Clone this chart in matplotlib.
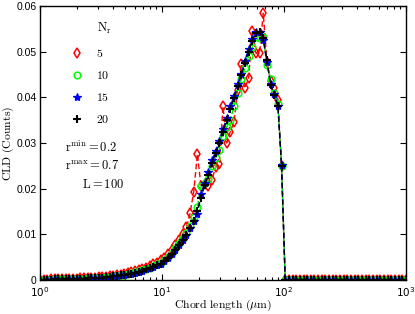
import math
import matplotlib
matplotlib.use("Agg")
import matplotlib.pyplot as plt
from matplotlib.ticker import FixedLocator, FuncFormatter, LogLocator, NullFormatter

plt.rcParams['font.family'] = ['Liberation Sans Narrow', 'Liberation Sans', 'DejaVu Sans']
plt.rcParams['mathtext.fontset'] = 'custom'
plt.rcParams['mathtext.rm'] = 'Liberation Sans Narrow'
plt.rcParams['mathtext.it'] = 'Liberation Sans Narrow:italic'
plt.rcParams['mathtext.bf'] = 'Liberation Sans Narrow:bold'

# chord length grid (um)
chord = [1.000, 1.072, 1.148, 1.230, 1.318, 1.413, 1.514, 1.622, 1.738, 1.862,
         1.995, 2.138, 2.291, 2.455, 2.630, 2.818, 3.020, 3.236, 3.467, 3.715,
         3.981, 4.266, 4.571, 4.898, 5.248, 5.623, 6.026, 6.457, 6.918, 7.413,
         7.943, 8.511, 9.120, 9.772, 10.47, 11.22, 12.02, 12.88, 13.80, 14.79,
         15.85, 16.98, 18.20, 19.50, 20.89, 22.39, 23.99, 25.70, 27.54, 29.51,
         31.62, 33.88, 36.31, 38.90, 41.69, 44.67, 47.86, 51.29, 54.95, 58.88,
         63.10, 67.61, 72.44, 77.62, 83.18, 89.13, 95.50, 102.3, 109.6, 117.5,
         125.9, 134.9, 144.5, 154.9, 166.0, 177.8, 190.5, 204.2, 218.8, 234.4,
         251.2, 269.2, 288.4, 309.0, 331.1, 354.8, 380.2, 407.4, 436.5, 467.7,
         501.2, 537.0, 575.4, 616.6, 660.7, 707.9, 758.6, 812.8, 871.0, 933.3,
         1000.0]

tail_zero = [0.0, 0.0, 0.0, 0.0, 0.0, 0.0, 0.0, 0.0, 0.0, 0.0,
             0.0, 0.0, 0.0, 0.0, 0.0, 0.0, 0.0, 0.0, 0.0, 0.0,
             0.0, 0.0, 0.0, 0.0, 0.0, 0.0, 0.0, 0.0, 0.0, 0.0,
             0.0, 0.0, 0.0, 0.0]

cld_n5 = [0.0001, 0.0001, 0.0001, 0.0002, 0.0002, 0.0002, 0.0002, 0.0003, 0.0003, 0.0003,
          0.0003, 0.0004, 0.0004, 0.0004, 0.0005, 0.0005, 0.0006, 0.0006, 0.0007, 0.0008,
          0.0009, 0.0010, 0.0012, 0.0013, 0.0015, 0.0017, 0.0019, 0.0021, 0.0024, 0.0027,
          0.0031, 0.0034, 0.0038, 0.0043, 0.0049, 0.0057, 0.0066, 0.0077, 0.0088, 0.0100,
          0.0115, 0.0146, 0.0193, 0.0276, 0.0205, 0.0210, 0.0205, 0.0220, 0.0247, 0.0255,
          0.0380, 0.0300, 0.0325, 0.0346, 0.0416, 0.0473, 0.0420, 0.0442, 0.0545, 0.0497,
          0.0497, 0.0584, 0.0477, 0.0435, 0.0420, 0.0395, 0.0250] + tail_zero

cld_n10 = [0.0001, 0.0001, 0.0001, 0.0001, 0.0002, 0.0002, 0.0002, 0.0002, 0.0002, 0.0003,
           0.0003, 0.0003, 0.0003, 0.0004, 0.0004, 0.0004, 0.0005, 0.0005, 0.0006, 0.0007,
           0.0008, 0.0009, 0.0010, 0.0012, 0.0013, 0.0015, 0.0017, 0.0019, 0.0021, 0.0024,
           0.0027, 0.0030, 0.0034, 0.0038, 0.0043, 0.0050, 0.0059, 0.0069, 0.0080, 0.0091,
           0.0102, 0.0118, 0.0137, 0.0160, 0.0205, 0.0212, 0.0222, 0.0250, 0.0268, 0.0285,
           0.0315, 0.0335, 0.0350, 0.0380, 0.0410, 0.0440, 0.0465, 0.0490, 0.0510, 0.0532,
           0.0530, 0.0532, 0.0470, 0.0440, 0.0410, 0.0385, 0.0250] + tail_zero

cld_n15 = [0.0001, 0.0001, 0.0001, 0.0001, 0.0002, 0.0002, 0.0002, 0.0002, 0.0002, 0.0003,
           0.0003, 0.0003, 0.0003, 0.0004, 0.0004, 0.0004, 0.0005, 0.0005, 0.0006, 0.0007,
           0.0008, 0.0009, 0.0010, 0.0011, 0.0013, 0.0014, 0.0016, 0.0018, 0.0020, 0.0023,
           0.0026, 0.0029, 0.0032, 0.0036, 0.0041, 0.0048, 0.0057, 0.0066, 0.0077, 0.0088,
           0.0099, 0.0113, 0.0130, 0.0145, 0.0188, 0.0212, 0.0236, 0.0262, 0.0282, 0.0305,
           0.0330, 0.0355, 0.0380, 0.0403, 0.0430, 0.0452, 0.0480, 0.0505, 0.0528, 0.0543,
           0.0542, 0.0525, 0.0478, 0.0430, 0.0408, 0.0382, 0.0252] + tail_zero

cld_n20 = [0.0001, 0.0001, 0.0001, 0.0001, 0.0002, 0.0002, 0.0002, 0.0002, 0.0002, 0.0003,
           0.0003, 0.0003, 0.0003, 0.0004, 0.0004, 0.0004, 0.0005, 0.0005, 0.0006, 0.0007,
           0.0008, 0.0009, 0.0010, 0.0011, 0.0013, 0.0014, 0.0016, 0.0018, 0.0020, 0.0023,
           0.0026, 0.0029, 0.0032, 0.0036, 0.0041, 0.0048, 0.0057, 0.0066, 0.0077, 0.0088,
           0.0099, 0.0113, 0.0130, 0.0152, 0.0180, 0.0208, 0.0230, 0.0256, 0.0278, 0.0300,
           0.0325, 0.0350, 0.0375, 0.0398, 0.0424, 0.0448, 0.0475, 0.0500, 0.0524, 0.0541,
           0.0543, 0.0530, 0.0482, 0.0428, 0.0405, 0.0380, 0.0250] + tail_zero

series_labels = ['5', '10', '15', '20']
yticks = [0, 0.01, 0.02, 0.03, 0.04, 0.05, 0.06]

fig = plt.figure(figsize=(4.15, 3.14), dpi=100)
ax = fig.add_axes([40/415, 1-280/314, 366/415, 274/314])

styles = [
    dict(color=(1, 0, 0), marker='d', mfc='none', mec=(1, 0, 0), ms=5.5, mew=1.1),
    dict(color=(0, 0.9, 0), marker='o', mfc='none', mec=(0, 1, 0), ms=4.8, mew=1.1),
    dict(color=(0, 0, 1), marker='*', mfc=(0, 0, 1), mec=(0, 0, 1), ms=6.0, mew=0.9),
    dict(color='black', marker='+', mfc='black', mec='black', ms=6.0, mew=1.5),
]
data = [cld_n5, cld_n10, cld_n15, cld_n20]
handles = []
for ys, st, lab in zip(data, styles, series_labels):
    ax.plot(chord, ys, ls='--', lw=1.0, dashes=(4, 2), **st)
    h, = ax.plot([], [], ls='none', marker=st['marker'], mfc=st['mfc'],
                 mec=st['mec'], ms=st['ms'], mew=st['mew'], label=lab)
    handles.append(h)

ax.set_xscale('log')
ax.set_xlim(1, 1000)
ax.set_ylim(0, 0.06)
ax.xaxis.set_major_locator(FixedLocator([1, 10, 100, 1000]))
ax.xaxis.set_major_formatter(FuncFormatter(lambda v, p: r'$10^{%d}$' % round(math.log10(v))))
ax.xaxis.set_minor_locator(LogLocator(base=10, subs=[2, 3, 4, 5, 6, 7, 8, 9]))
ax.xaxis.set_minor_formatter(NullFormatter())
ax.yaxis.set_major_locator(FixedLocator(yticks))
ax.yaxis.set_major_formatter(FuncFormatter(lambda v, p: '0' if v == 0 else '%.2f' % v))
ax.tick_params(which='both', direction='in', top=True, right=True, labelsize=7.5, width=0.8)
ax.tick_params(which='major', length=4, pad=2.5)
ax.tick_params(axis='x', which='major', pad=3.5)
ax.tick_params(which='minor', length=2.5)
for s in ax.spines.values():
    s.set_linewidth(1.0)

ax.set_xlabel(r'$\mathrm{Chord\ length}\ (\mu\mathrm{m})$', fontsize=8.5, math_fontfamily='cm', labelpad=-0.5)
ax.set_ylabel(r'$\mathrm{CLD\ (Counts)}$', fontsize=8.5, math_fontfamily='cm', labelpad=0)

leg = ax.legend(handles=handles, loc='upper left', bbox_to_anchor=(0.06, 0.88),
                frameon=False, fontsize=8.5, labelspacing=0.85, handlelength=1.0,
                handletextpad=1.1, borderpad=0.3)
for t in leg.get_texts():
    t.set_text('$\\mathbf{%s}$' % t.get_text())
    t.set_math_fontfamily('cm')

ax.text(0.155, 0.92, r'$\mathrm{N_r}$', transform=ax.transAxes, fontsize=9,
        math_fontfamily='cm', va='center', ha='left')
ax.text(0.068, 0.485, r'$\mathrm{r^{min}=0.2}$', transform=ax.transAxes, fontsize=9,
        math_fontfamily='cm', va='center', ha='left')
ax.text(0.068, 0.413, r'$\mathrm{r^{max}=0.7}$', transform=ax.transAxes, fontsize=9,
        math_fontfamily='cm', va='center', ha='left')
ax.text(0.115, 0.35, r'$\mathrm{L=100}$', transform=ax.transAxes, fontsize=9,
        math_fontfamily='cm', va='center', ha='left')

fig.savefig('out.png', dpi=100)
